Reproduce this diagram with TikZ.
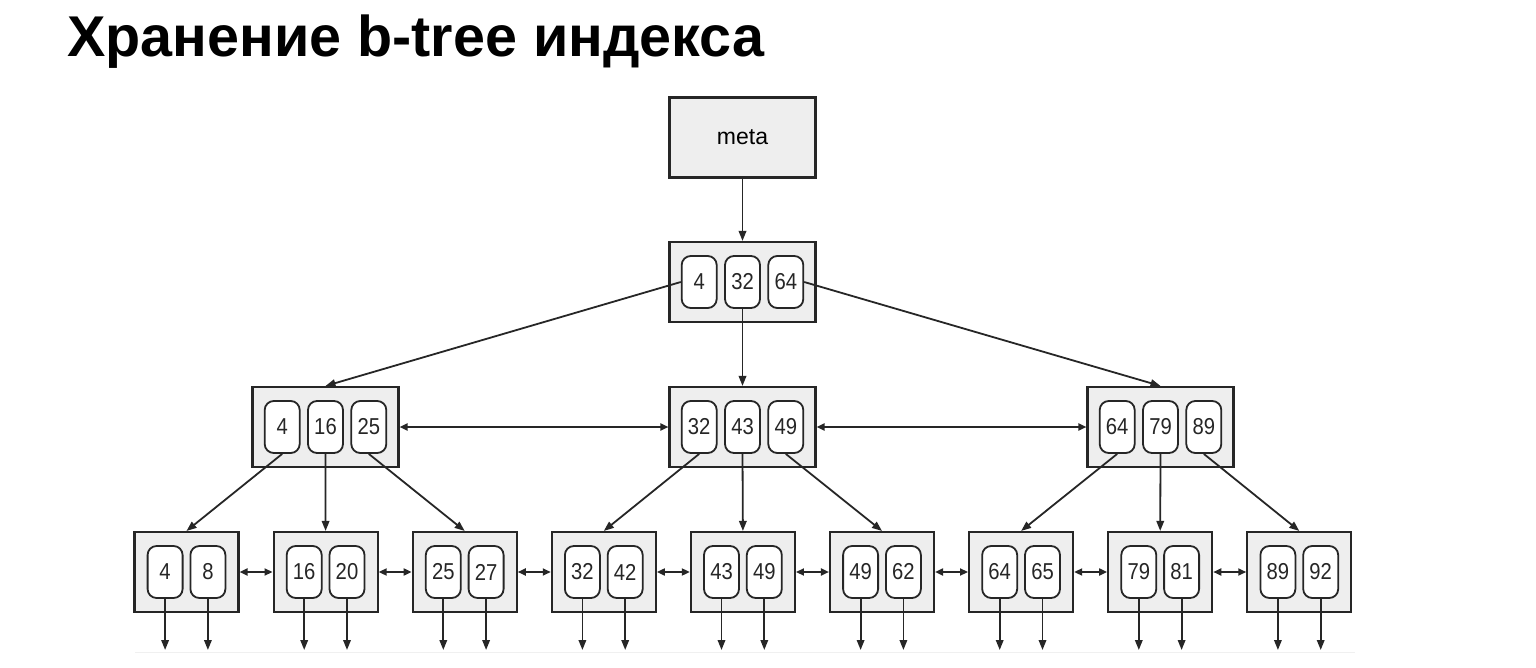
\documentclass[tikz,border=0pt]{standalone}
\usepackage{fontspec}
\setmainfont{Liberation Sans}
\newfontfamily\keyfont[FakeStretch=0.88]{Liberation Sans}
\usepackage{tikz}
\usetikzlibrary{positioning,arrows.meta}
\definecolor{cedge}{HTML}{262626}
\definecolor{cpage}{HTML}{EEEEEE}
\tikzset{
  pagebox/.style={draw=cedge, line width=2.1pt, fill=cpage, minimum width=146pt,
    minimum height=80pt, inner sep=0pt, font=\fontsize{23}{23}\selectfont},
  leafbox/.style={pagebox, minimum width=104pt},
  keybox/.style={rounded corners=9pt, draw=cedge, line width=1.8pt, fill=white,
    minimum width=35pt, minimum height=52pt, inner sep=0pt,
    text=black!85, font=\keyfont\fontsize{23}{23}\selectfont},
  treearrow/.style={-{Triangle[length=10pt,width=7.5pt]}, line width=1.8pt, color=cedge},
  siblingarrow/.style={{Triangle[length=8pt,width=7pt]}-{Triangle[length=8pt,width=7pt]},
    line width=1.8pt, color=cedge}
}

\begin{document}
\begin{tikzpicture}[x=1pt, y=-1pt, node distance=6.5pt]
  \useasboundingbox (0,0) rectangle (1536,668);
  \node[anchor=base west, inner sep=0pt, font=\bfseries\fontsize{57.5}{64}\selectfont]
    (title) at (67,57) {Хранение b-tree индекса};

  % meta page and root
  \node[pagebox] (meta) at (742.5,137.5) {meta};
  \node[pagebox] (root) at (742.5,282) {};
  \node[keybox] (r2) at (root.center) {32};
  \node[keybox, left=of r2] (r1) {4};
  \node[keybox, right=of r2] (r3) {64};

  % inner pages
  \foreach \m/\x/\a/\b/\c in {ml/325.5/4/16/25, mc/742.5/32/43/49, mr/1160.5/64/79/89} {
    \node[pagebox] (\m) at (\x,427) {};
    \node[keybox] (\m2) at (\m.center) {\b};
    \node[keybox, left=of \m2] (\m1) {\a};
    \node[keybox, right=of \m2] (\m3) {\c};
  }

  % leaf pages
  \coordinate (floor) at (0,650);
  \foreach \a/\b [count=\i] in {4/8, 16/20, 25/27, 32/42, 43/49, 49/62, 64/65, 79/81, 89/92} {
    \node[leafbox] (l\i) at ({186.5+139.1*(\i-1)},572) {};
    \node[keybox, left=3pt of l\i.center] (la\i) {\a};
    \node[keybox, right=3pt of l\i.center] (lb\i) {\b};
    \draw[treearrow] (la\i.south) -- (la\i.south |- floor);
    \draw[treearrow] (lb\i.south) -- (lb\i.south |- floor);
  }
  \draw[black!6] (135,652) -- (1355,652);

  % links
  \draw[treearrow] (meta) -- (root);
  \draw[treearrow] (r1.west) -- (ml.north);
  \draw[treearrow] (r2.south) -- (mc.north);
  \draw[treearrow] (r3.east) -- (mr.north);
  \draw[siblingarrow] (ml.east) -- (mc.west);
  \draw[siblingarrow] (mc.east) -- (mr.west);
  \foreach \m [count=\p] in {ml,mc,mr}
    \foreach \k in {1,2,3} {
      \pgfmathtruncatemacro\leaf{3*(\p-1)+\k}
      \draw[treearrow] (\m\k.south) -- (l\leaf.north);
    }
  \foreach \i [evaluate=\i as \j using int(\i+1)] in {1,...,8}
    \draw[siblingarrow] (l\i.east) -- (l\j.west);
\end{tikzpicture}
\end{document}
